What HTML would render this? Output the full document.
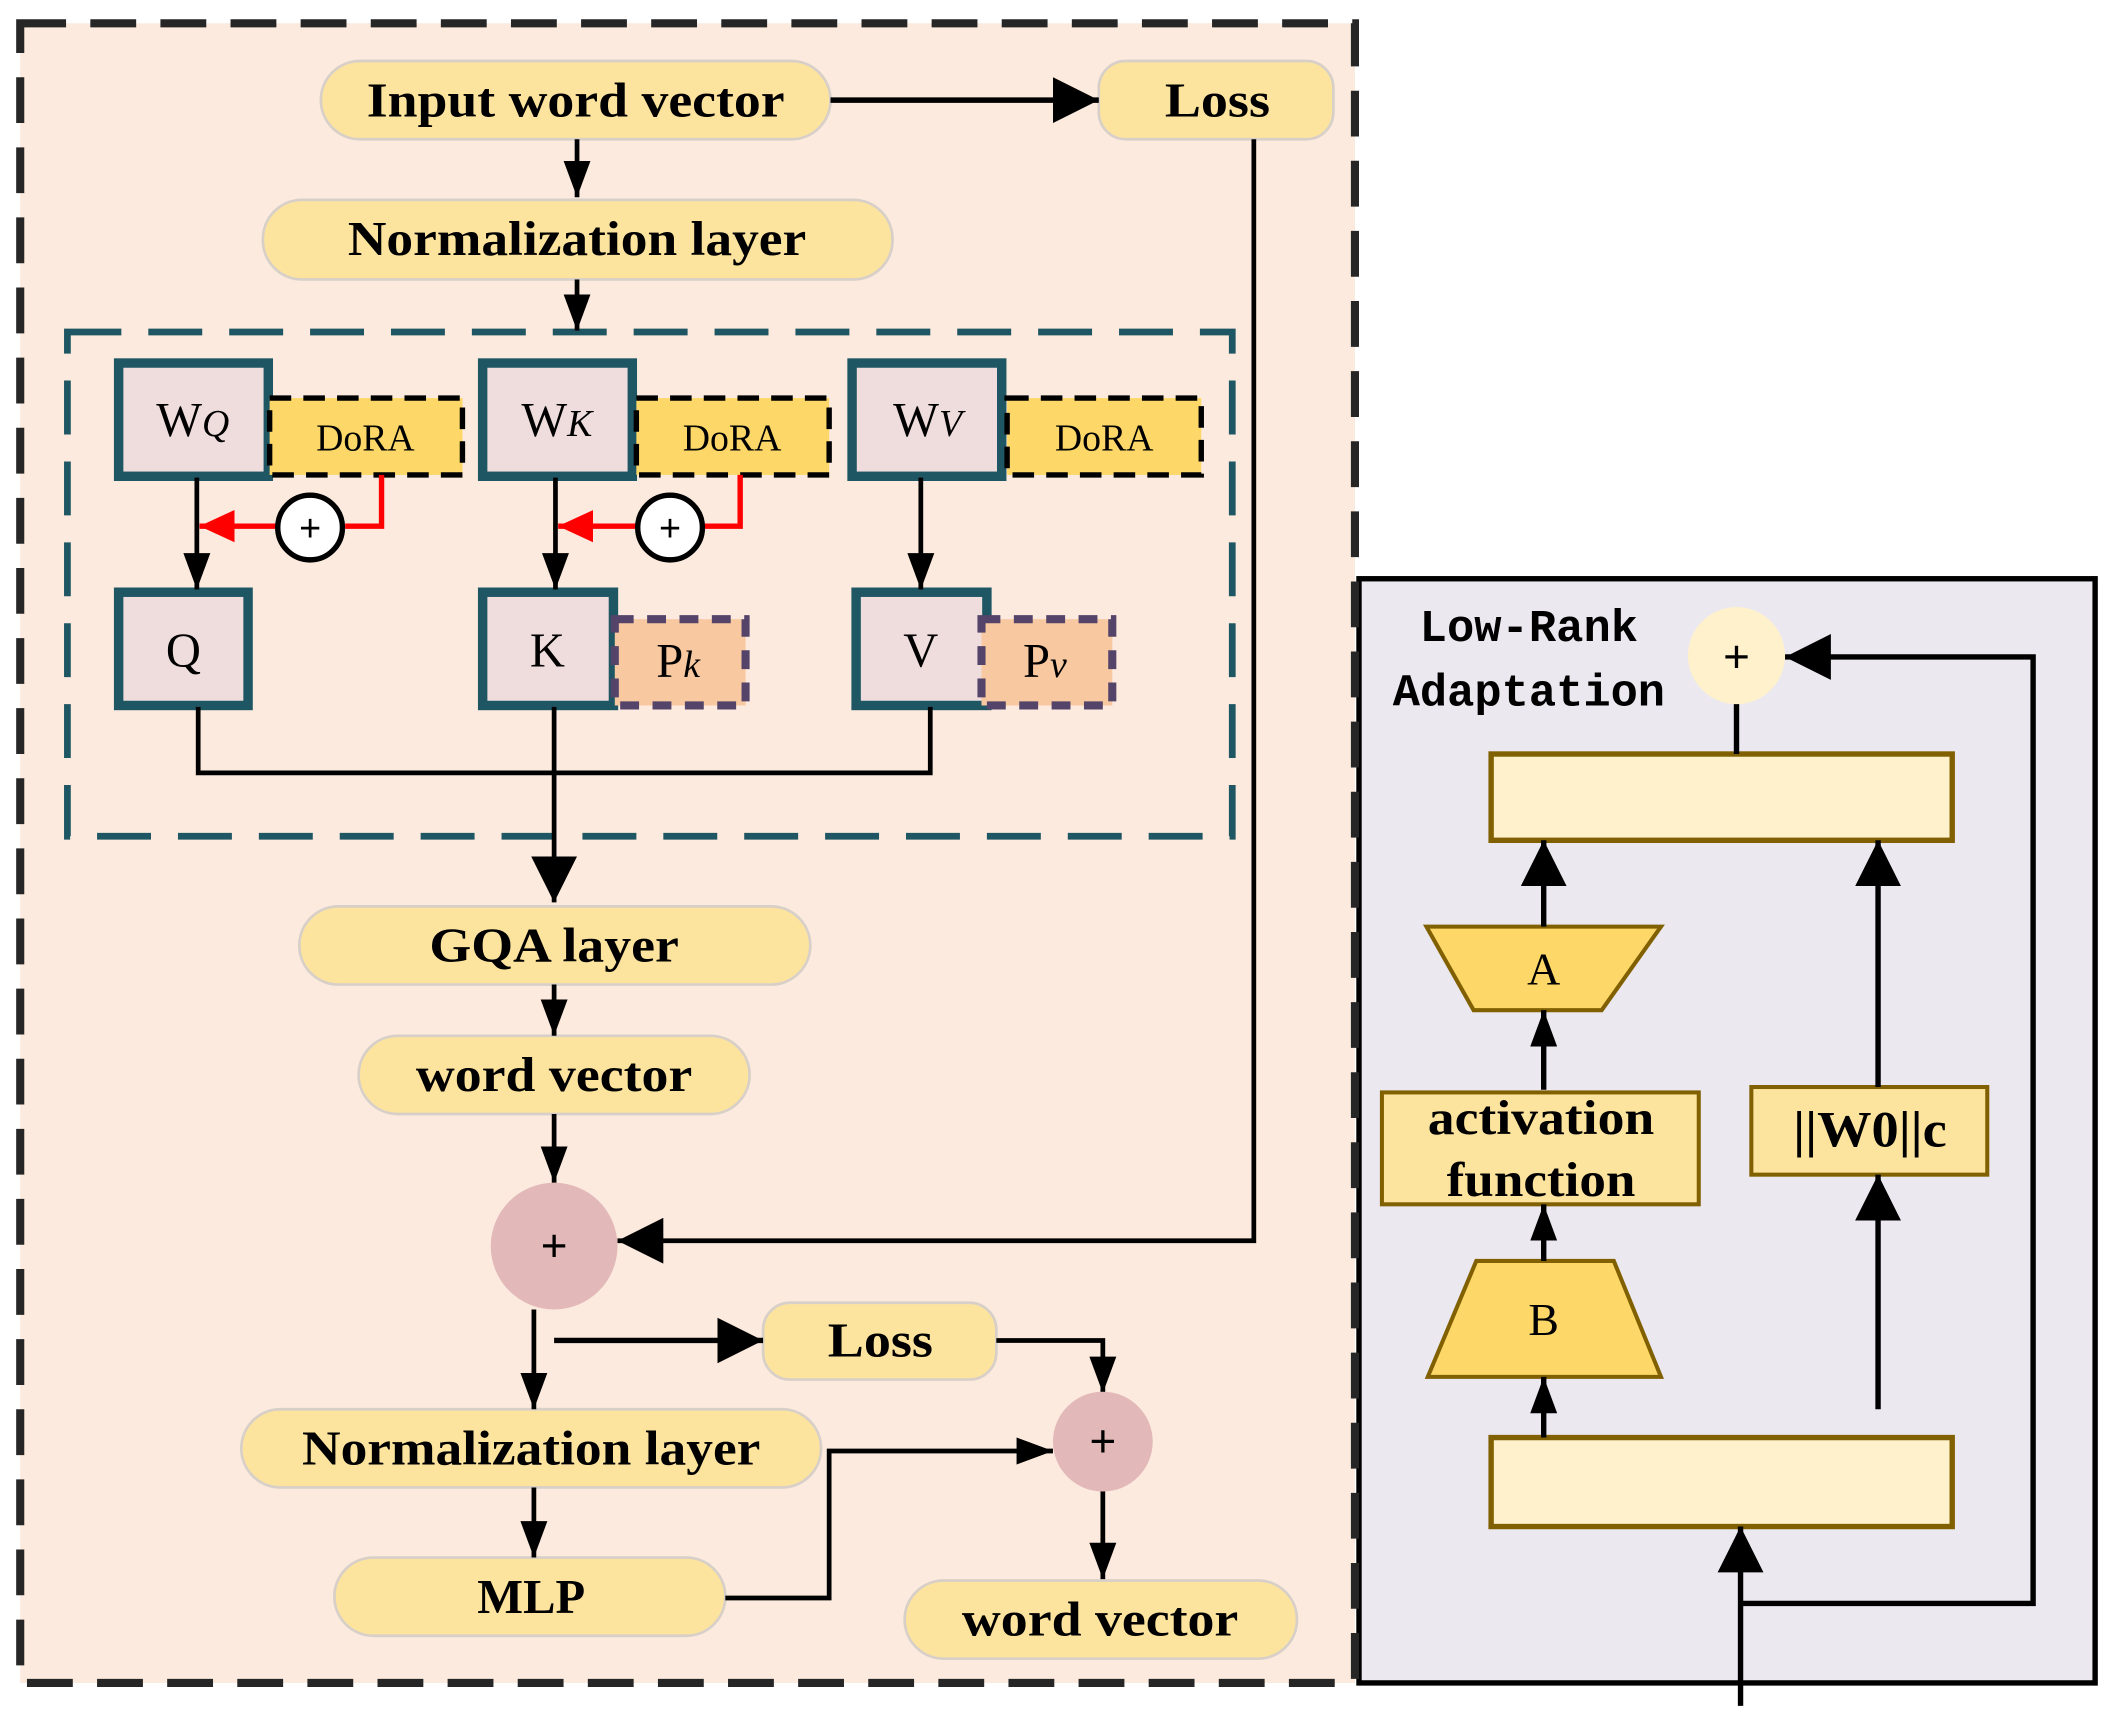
<!DOCTYPE html>
<html><head><meta charset="utf-8"><style>html,body{margin:0;padding:0;background:#fff}svg{display:block}</style></head><body>
<svg width="2114" height="1717" viewBox="0 0 1568 1273" xmlns="http://www.w3.org/2000/svg">
<defs>
<marker id="b" viewBox="0 0 10 10" refX="10" refY="5" markerWidth="34" markerHeight="34" orient="auto" markerUnits="userSpaceOnUse"><path d="M0,0L10,5L0,10z" fill="#000"/></marker>
<marker id="a" viewBox="0 0 10 10" refX="10" refY="5" markerWidth="27" markerHeight="20" orient="auto" markerUnits="userSpaceOnUse" preserveAspectRatio="none"><path d="M0,0L10,5L0,10z" fill="#000"/></marker>
<marker id="r" viewBox="0 0 10 10" refX="10" refY="5" markerWidth="26" markerHeight="24" orient="auto" markerUnits="userSpaceOnUse" preserveAspectRatio="none"><path d="M0,0L10,5L0,10z" fill="#f00"/></marker>
</defs>
<rect x="15" y="17" width="990" height="1231" fill="#fbeadd"/>
<rect x="1008" y="429" width="546" height="819" fill="#ebe8f0" stroke="#000" stroke-width="4"/>
<rect x="15" y="17" width="990" height="1231" fill="none" stroke="#262626" stroke-width="6" stroke-dasharray="34,18"/>

<g font-family="Liberation Serif, serif" font-weight="bold" font-size="36" text-anchor="middle" fill="#000">
<rect x="238" y="45" width="378" height="58" rx="29" fill="#fde49e" stroke="#d8d0c8" stroke-width="2"/>
<text x="427" y="86" textLength="310" lengthAdjust="spacingAndGlyphs">Input word vector</text>
<rect x="815" y="45" width="174" height="58" rx="20" fill="#fde49e" stroke="#d8d0c8" stroke-width="2"/>
<text x="903" y="86" textLength="78" lengthAdjust="spacingAndGlyphs">Loss</text>
<rect x="195" y="148" width="467" height="59" rx="29" fill="#fde49e" stroke="#d8d0c8" stroke-width="2"/>
<text x="428" y="189" textLength="340" lengthAdjust="spacingAndGlyphs">Normalization layer</text>
<rect x="222" y="672" width="379" height="58" rx="29" fill="#fde49e" stroke="#d8d0c8" stroke-width="2"/>
<text x="411" y="713" textLength="185" lengthAdjust="spacingAndGlyphs">GQA layer</text>
<rect x="266" y="768" width="290" height="58" rx="29" fill="#fde49e" stroke="#d8d0c8" stroke-width="2"/>
<text x="411" y="809" textLength="205" lengthAdjust="spacingAndGlyphs">word vector</text>
<rect x="566" y="966" width="173" height="57" rx="20" fill="#fde49e" stroke="#d8d0c8" stroke-width="2"/>
<text x="653" y="1006" textLength="78" lengthAdjust="spacingAndGlyphs">Loss</text>
<rect x="179" y="1045" width="430" height="58" rx="29" fill="#fde49e" stroke="#d8d0c8" stroke-width="2"/>
<text x="394" y="1086" textLength="340" lengthAdjust="spacingAndGlyphs">Normalization layer</text>
<rect x="248" y="1155" width="290" height="58" rx="29" fill="#fde49e" stroke="#d8d0c8" stroke-width="2"/>
<text x="394" y="1196">MLP</text>
<rect x="671" y="1172" width="291" height="58" rx="29" fill="#fde49e" stroke="#d8d0c8" stroke-width="2"/>
<text x="816" y="1213" textLength="205" lengthAdjust="spacingAndGlyphs">word vector</text>
</g>

<rect x="50" y="246" width="864" height="374" fill="none" stroke="#1f5663" stroke-width="5" stroke-dasharray="40,20"/>
<g font-family="Liberation Serif, serif" font-size="36" text-anchor="middle">
<rect x="88" y="269" width="111" height="84" fill="#efdcdc" stroke="#1f5663" stroke-width="7"/>
<text x="143" y="323">W<tspan font-style="italic" font-size="28">Q</tspan></text>
<rect x="200" y="295" width="143" height="57" fill="#fdd868" stroke="#000" stroke-width="4" stroke-dasharray="16,9"/>
<text x="271" y="334" font-size="28">DoRA</text>
<rect x="358" y="269" width="111" height="84" fill="#efdcdc" stroke="#1f5663" stroke-width="7"/>
<text x="413" y="323">W<tspan font-style="italic" font-size="28">K</tspan></text>
<rect x="472" y="295" width="143" height="57" fill="#fdd868" stroke="#000" stroke-width="4" stroke-dasharray="16,9"/>
<text x="543" y="334" font-size="28">DoRA</text>
<rect x="632" y="269" width="111" height="84" fill="#efdcdc" stroke="#1f5663" stroke-width="7"/>
<text x="688" y="323">W<tspan font-style="italic" font-size="28">V</tspan></text>
<rect x="747" y="295" width="144" height="57" fill="#fdd868" stroke="#000" stroke-width="4" stroke-dasharray="16,9"/>
<text x="819" y="334" font-size="28">DoRA</text>

<rect x="88" y="439" width="96" height="84" fill="#efdcdc" stroke="#1f5663" stroke-width="7"/>
<text x="136" y="494">Q</text>
<rect x="358" y="439" width="97" height="84" fill="#efdcdc" stroke="#1f5663" stroke-width="7"/>
<text x="406" y="494">K</text>
<rect x="456" y="459" width="97" height="64" fill="#f8c8a0" stroke="#55446a" stroke-width="6" stroke-dasharray="14,10"/>
<text x="503" y="502">P<tspan font-style="italic" font-size="28">k</tspan></text>
<rect x="635" y="439" width="97" height="84" fill="#efdcdc" stroke="#1f5663" stroke-width="7"/>
<text x="683" y="494">V</text>
<rect x="728" y="459" width="97" height="64" fill="#f8c8a0" stroke="#55446a" stroke-width="6" stroke-dasharray="14,10"/>
<text x="775" y="502">P<tspan font-style="italic" font-size="28">v</tspan></text>
</g>

<g stroke="#000" stroke-width="3.5" fill="none">
<line x1="146" y1="354" x2="146" y2="437" marker-end="url(#a)"/>
<line x1="412" y1="354" x2="412" y2="437" marker-end="url(#a)"/>
<line x1="683" y1="354" x2="683" y2="437" marker-end="url(#a)"/>
<polyline points="147,524 147,573 690,573 690,524"/>
<line x1="411" y1="524" x2="411" y2="669" marker-end="url(#b)"/>
<line x1="428" y1="103" x2="428" y2="146" marker-end="url(#a)"/>
<line x1="428" y1="207" x2="428" y2="245" marker-end="url(#a)"/>
<line x1="616" y1="74" x2="815" y2="74" marker-end="url(#b)" stroke-width="4"/>
<line x1="411" y1="730" x2="411" y2="768" marker-end="url(#a)"/>
<line x1="411" y1="826" x2="411" y2="877" marker-end="url(#a)"/>
<polyline points="930,103 930,920 458,920" marker-end="url(#b)"/>
<line x1="396" y1="971" x2="396" y2="1045" marker-end="url(#a)"/>
<line x1="411" y1="994" x2="566" y2="994" marker-end="url(#b)" stroke-width="4"/>
<polyline points="739,994 818,994 818,1033" marker-end="url(#a)"/>
<line x1="396" y1="1103" x2="396" y2="1155" marker-end="url(#a)"/>
<polyline points="538,1185 615,1185 615,1076 781,1076" marker-end="url(#a)"/>
<line x1="818" y1="1105" x2="818" y2="1171" marker-end="url(#a)"/>
</g>
<g stroke="#f00" stroke-width="4" fill="none">
<polyline points="283,352 283,390 256,390"/>
<line x1="206" y1="390" x2="148" y2="390" marker-end="url(#r)"/>
<polyline points="549,352 549,390 522,390"/>
<line x1="472" y1="390" x2="414" y2="390" marker-end="url(#r)"/>
</g>
<g font-family="Liberation Sans, sans-serif" font-size="28" text-anchor="middle">
<circle cx="230" cy="391" r="24" fill="#fff" stroke="#000" stroke-width="4"/><text x="230" y="401">+</text>
<circle cx="497" cy="391" r="24" fill="#fff" stroke="#000" stroke-width="4"/><text x="497" y="401">+</text>
<circle cx="411" cy="924" r="47" fill="#e3b8b8"/><text x="411" y="935" font-size="34">+</text>
<circle cx="818" cy="1069" r="37" fill="#e3b8b8"/><text x="818" y="1080" font-size="34">+</text>
</g>

<g font-family="Liberation Mono, monospace" font-size="34" fill="#000" font-weight="bold">
<text x="1053" y="475" textLength="162" lengthAdjust="spacingAndGlyphs">Low-Rank</text>
<text x="1033" y="523" textLength="202" lengthAdjust="spacingAndGlyphs">Adaptation</text>
</g>
<circle cx="1288" cy="486" r="36" fill="#fef1cc"/>
<text x="1288" y="498" font-family="Liberation Sans, sans-serif" font-size="34" text-anchor="middle">+</text>
<g stroke="#806000" stroke-width="4">
<rect x="1106" y="559" width="342" height="64" fill="#fef1cc"/>
<rect x="1106" y="1066" width="342" height="66" fill="#fef1cc"/>
<polygon points="1058,687 1232,687 1188,749 1093,749" fill="#fdd868" stroke-width="3"/>
<polygon points="1095,935 1197,935 1232,1021 1059,1021" fill="#fdd868" stroke-width="3"/>
<rect x="1025" y="810" width="235" height="83" fill="#fde49e" stroke-width="3"/>
<rect x="1299" y="806" width="175" height="65" fill="#fde49e" stroke-width="3"/>
</g>
<g font-family="Liberation Serif, serif" font-size="34" text-anchor="middle">
<text x="1145" y="730">A</text>
<text x="1145" y="990">B</text>
<text x="1143" y="841" font-weight="bold" font-size="36" textLength="168" lengthAdjust="spacingAndGlyphs">activation</text>
<text x="1143" y="887" font-weight="bold" font-size="36" textLength="140" lengthAdjust="spacingAndGlyphs">function</text>
<text x="1387" y="850" font-weight="bold" font-size="38" textLength="114" lengthAdjust="spacingAndGlyphs">||W0||c</text>
</g>
<g stroke="#000" stroke-width="4" fill="none">
<line x1="1288" y1="522" x2="1288" y2="559"/>
<line x1="1145" y1="687" x2="1145" y2="623" marker-end="url(#b)"/>
<line x1="1393" y1="806" x2="1393" y2="623" marker-end="url(#b)"/>
<line x1="1145" y1="808" x2="1145" y2="749" marker-end="url(#a)"/>
<line x1="1145" y1="935" x2="1145" y2="893" marker-end="url(#a)"/>
<line x1="1393" y1="1045" x2="1393" y2="871" marker-end="url(#b)"/>
<line x1="1145" y1="1066" x2="1145" y2="1021" marker-end="url(#a)"/>
<line x1="1291" y1="1265" x2="1291" y2="1132" marker-end="url(#b)"/>
<polyline points="1291,1189 1508,1189 1508,487 1324,487" marker-end="url(#b)"/>
</g>
</svg>
</body></html>
